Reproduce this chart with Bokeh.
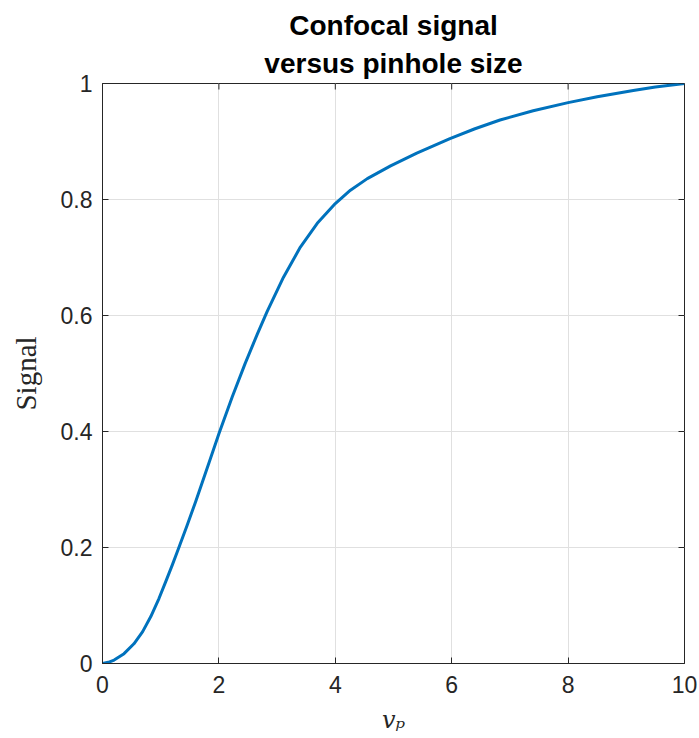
import math
from bokeh.plotting import figure
from bokeh.models import FixedTicker, Range1d, Title
from bokeh.embed import file_html
from bokeh.resources import INLINE

# data
vp = [0, 0.1, 0.2, 0.37, 0.54, 0.69, 0.83, 0.97, 1.09, 1.2, 1.29, 1.45, 1.6,
      1.83, 2.0, 2.23, 2.45, 2.66, 2.83, 3.11, 3.4, 3.69, 4.0, 4.26, 4.55,
      4.95, 5.4, 5.97, 6.4, 6.83, 7.4, 8.0, 8.5, 9.12, 9.5, 10.0]
signal = [0, 0.002, 0.006, 0.017, 0.034, 0.055, 0.081, 0.112, 0.142, 0.170,
          0.194, 0.237, 0.279, 0.346, 0.396, 0.460, 0.517, 0.568, 0.607,
          0.666, 0.718, 0.759, 0.793, 0.816, 0.836, 0.858, 0.880, 0.905,
          0.922, 0.937, 0.953, 0.967, 0.977, 0.988, 0.994, 1.0]

x_ticks = [0, 2, 4, 6, 8, 10]
x_tick_labels = ["0", "2", "4", "6", "8", "10"]
y_ticks = [0, 0.2, 0.4, 0.6, 0.8, 1.0]
y_tick_labels = ["0", "0.2", "0.4", "0.6", "0.8", "1"]

title_line1 = "Confocal signal"
title_line2 = "versus pinhole size"
x_label = "vₚ"
y_label = "Signal"

FONT = "Liberation Sans"
AX_COL = "#262626"

p = figure(width=699, height=738, output_backend="svg", toolbar_location=None,
           x_range=Range1d(0, 10), y_range=Range1d(0, 1),
           min_border_left=102, min_border_right=15, min_border_top=83,
           min_border_bottom=75)
p.background_fill_color = "white"
p.border_fill_color = "white"
p.outline_line_color = AX_COL
p.outline_line_width = 1

# two-line title, each line centred (added Title sits closer to the frame)
p.title.text = title_line1
p.title.text_font = FONT
p.title.text_font_size = "28px"
p.title.text_font_style = "bold"
p.title.text_color = "black"
p.title.align = "center"
p.title.standoff = 0
p.title.offset = 0
t2 = Title(text=title_line2, align="center", text_font=FONT,
           text_font_size="28px", text_font_style="bold", text_color="black",
           standoff=10)
p.add_layout(t2, "above")

p.line(vp, signal, line_color="#0072BD", line_width=3, line_join="round")

def style_axis(ax):
    ax.axis_line_color = AX_COL
    ax.axis_line_width = 1
    ax.major_tick_line_color = AX_COL
    ax.major_tick_in = 6
    ax.major_tick_out = 0
    ax.minor_tick_line_color = None
    ax.major_label_text_font = FONT
    ax.major_label_text_color = AX_COL
    ax.major_label_text_font_size = "23px"

xa = p.xaxis[0]
ya = p.yaxis[0]
xa.ticker = FixedTicker(ticks=x_ticks)
ya.ticker = FixedTicker(ticks=y_ticks)
xa.major_label_overrides = {t: l for t, l in zip(x_ticks, x_tick_labels)}
ya.major_label_overrides = {t: l for t, l in zip(y_ticks, y_tick_labels)}
style_axis(xa)
style_axis(ya)
xa.major_label_standoff = 12
ya.major_label_standoff = 10

xa.axis_label = x_label
xa.axis_label_text_font = "DejaVu Serif"
xa.axis_label_text_font_style = "italic"
xa.axis_label_text_font_size = "24px"
xa.axis_label_text_color = AX_COL
xa.axis_label_standoff = 10

ya.axis_label = y_label
ya.axis_label_text_font = "Liberation Serif"
ya.axis_label_text_font_style = "normal"
ya.axis_label_text_font_size = "29px"
ya.axis_label_text_color = AX_COL
ya.axis_label_standoff = 16

# inward tick marks on the top and right edges of the box
p.ray(x=x_ticks, y=[1.0] * len(x_ticks), length=6, length_units="screen",
      angle=-math.pi / 2, line_color=AX_COL, line_width=1)
p.ray(x=[10.0] * len(y_ticks), y=y_ticks, length=6, length_units="screen",
      angle=math.pi, line_color=AX_COL, line_width=1)

p.xgrid.ticker = FixedTicker(ticks=x_ticks)
p.ygrid.ticker = FixedTicker(ticks=y_ticks)
p.xgrid.grid_line_color = "#e0e0e0"
p.ygrid.grid_line_color = "#e0e0e0"

open("out.html", "w").write(file_html(p, INLINE))
